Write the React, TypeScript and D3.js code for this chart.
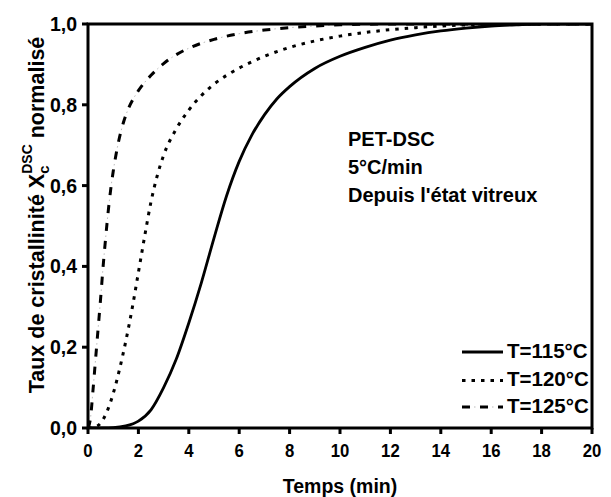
import React from "react";
import * as d3 from "d3";

const t115 = [0, 1.0, 1.5, 2.0, 2.5, 3.0, 3.5, 4.0, 4.5, 5.0, 5.5, 6.0, 6.5, 7.0, 7.5, 8.0, 9.0, 10.0, 11.0, 12.0, 13.0, 14.0, 15.0, 16.0, 17.0, 18.0, 20];
const x115 = [0, 0.001, 0.005, 0.017, 0.045, 0.1, 0.17, 0.26, 0.36, 0.47, 0.575, 0.66, 0.725, 0.775, 0.815, 0.845, 0.89, 0.92, 0.942, 0.96, 0.973, 0.983, 0.99, 0.995, 0.998, 1, 1];

const t120 = [0, 0.25, 0.5, 0.75, 1.0, 1.25, 1.5, 1.75, 2.0, 2.25, 2.5, 2.75, 3.0, 3.5, 4.0, 4.5, 5.0, 5.5, 6.0, 7.0, 8.0, 9.0, 10.0, 11.0, 12.0, 13.0, 14.0, 16.0, 18.0, 20];
const x120 = [0, 0.002, 0.012, 0.04, 0.085, 0.145, 0.215, 0.295, 0.385, 0.475, 0.56, 0.625, 0.675, 0.74, 0.787, 0.823, 0.851, 0.873, 0.891, 0.92, 0.942, 0.958, 0.97, 0.979, 0.986, 0.991, 0.995, 0.999, 1, 1];

const t125 = [0, 0.1, 0.2, 0.3, 0.4, 0.5, 0.6, 0.7, 0.8, 0.9, 1.0, 1.2, 1.4, 1.6, 1.8, 2.0, 2.5, 3.0, 3.5, 4.0, 5.0, 6.0, 7.0, 8.0, 9.0, 10.0, 12.0, 20];
const x125 = [0, 0.025, 0.095, 0.17, 0.245, 0.32, 0.4, 0.47, 0.535, 0.59, 0.635, 0.705, 0.755, 0.79, 0.815, 0.835, 0.873, 0.902, 0.924, 0.94, 0.962, 0.976, 0.985, 0.991, 0.995, 0.998, 1, 1];

const xTicks = [0, 2, 4, 6, 8, 10, 12, 14, 16, 18, 20];
const yTicks = [0, 0.2, 0.4, 0.6, 0.8, 1.0];
const legendLabels = ["T=115°C", "T=120°C", "T=125°C"];
const annotation = ["PET-DSC", "5°C/min", "Depuis l'état vitreux"];

const W = 611, H = 497;
const L = 88, T = 24, R = 592, B = 428;
const FONT = "'Liberation Sans', Arial, Helvetica, sans-serif";

export default function App() {
  const x = d3.scaleLinear().domain([0, 20]).range([L, R]);
  const y = d3.scaleLinear().domain([0, 1]).range([B, T]);
  const line = d3
    .line<[number, number]>()
    .x((d) => x(d[0]))
    .y((d) => y(d[1]))
    .curve(d3.curveMonotoneX);
  const zip = (a: number[], b: number[]) => a.map((v, i) => [v, b[i]] as [number, number]);
  const p115 = line(zip(t115, x115)) || "";
  const p120 = line(zip(t120, x120)) || "";
  const p125 = line(zip(t125, x125)) || "";

  const legY = [352, 380.5, 407];
  return (
    <svg width={W} height={H} style={{ position: "absolute", left: 0, top: 0 }} fontFamily={FONT} fontWeight="bold">
      <rect x={0} y={0} width={W} height={H} fill="#fff" />
      <defs>
        <clipPath id="clip">
          <rect x={L} y={T} width={R - L} height={B - T} />
        </clipPath>
      </defs>
      <g clipPath="url(#clip)" fill="none" strokeLinejoin="round">
        <path d={p115} stroke="#000" strokeWidth={2.8} />
        <path d={p120} stroke="#000" strokeWidth={3} strokeDasharray="3.5 6" />
        <path d={p125} stroke="#000" strokeWidth={3} strokeDasharray="8 10" />
        <path d={p125} stroke="#bbb" strokeWidth={1} strokeDasharray="1.5 16.5" strokeDashoffset={-12} />
      </g>
      <rect x={L} y={T} width={R - L} height={B - T} fill="none" stroke="#000" strokeWidth={3} />
      {xTicks.map((v) => (
        <g key={"x" + v}>
          <line x1={x(v)} x2={x(v)} y1={B} y2={B + 6} stroke="#000" strokeWidth={3} />
          <text transform={`translate(${x(v)},457) scale(0.88,1)`} textAnchor="middle" fontSize={19}>
            {v}
          </text>
        </g>
      ))}
      {yTicks.map((v) => (
        <g key={"y" + v}>
          <line x1={L - 6} x2={L} y1={y(v)} y2={y(v)} stroke="#000" strokeWidth={3} />
          <text x={77} y={y(v) + 7} textAnchor="end" fontSize={19.5}>
            {v.toFixed(1).replace(".", ",")}
          </text>
        </g>
      ))}
      <text x={(L + R) / 2} y={493} textAnchor="middle" fontSize={19.5}>
        Temps (min)
      </text>
      <text transform={`translate(44,215) rotate(-90)`} textAnchor="middle" fontSize={21.5}>
        Taux de cristallinité X
        <tspan fontSize={15} dy={5}>c</tspan>
        <tspan fontSize={14} dx={-8.3} dy={-17}>DSC</tspan>
        <tspan dy={12}> normalisé</tspan>
      </text>
      {annotation.map((s, i) => (
        <text key={s} x={348} y={146 + i * 28} fontSize={20}>
          {s}
        </text>
      ))}
      <line x1={462} x2={503} y1={legY[0]} y2={legY[0]} stroke="#000" strokeWidth={2.8} />
      <line x1={462} x2={503} y1={legY[1]} y2={legY[1]} stroke="#000" strokeWidth={3} strokeDasharray="3.5 6" />
      <line x1={462} x2={503} y1={legY[2]} y2={legY[2]} stroke="#000" strokeWidth={3} strokeDasharray="8 10" />
      <line x1={462} x2={503} y1={legY[2]} y2={legY[2]} stroke="#bbb" strokeWidth={1} strokeDasharray="1.5 16.5" strokeDashoffset={-12} />
      {legendLabels.map((s, i) => (
        <text key={s} x={507} y={legY[i] + 5.5} fontSize={20.5}>
          {s}
        </text>
      ))}
    </svg>
  );
}
